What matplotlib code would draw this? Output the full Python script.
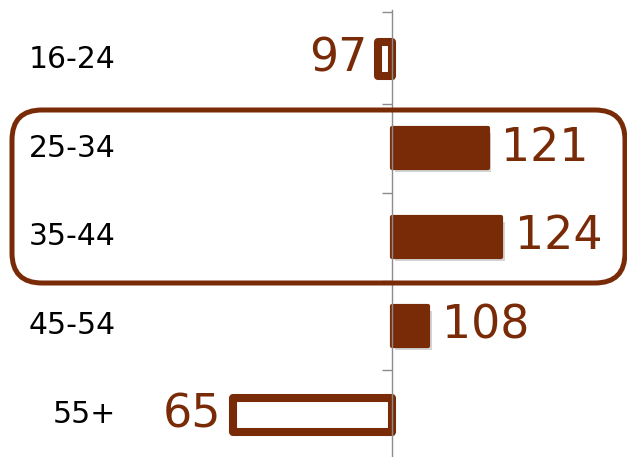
import matplotlib
matplotlib.use("Agg")
import matplotlib.pyplot as plt
from matplotlib.patches import FancyBboxPatch
import matplotlib.patheffects as pe

# ---- data ----
categories = ['16-24', '25-34', '35-44', '45-54', '55+']
index_values = [97, 121, 124, 108, 65]
baseline = 100

BROWN = '#792B07'
GRAY = '#8C8C8C'

fig = plt.figure(figsize=(6.27, 4.57), dpi=100)
ax = fig.add_axes([0, 0, 1, 1])
ax.set_facecolor('none')

y = list(range(len(categories)))
shadow = [pe.SimplePatchShadow(offset=(2.5, -3), shadow_rgbFace='#888888', alpha=0.35), pe.Normal()]

for yi, v in zip(y, index_values):
    if v < baseline:
        bars = ax.barh(yi, v - baseline, left=baseline, height=0.385,
                       color='white', edgecolor=BROWN, linewidth=5.8, zorder=3)
    else:
        bars = ax.barh(yi, v - baseline, left=baseline, height=0.44,
                       color=BROWN, edgecolor=BROWN, linewidth=3.0, zorder=3)
    for b in bars:
        b.set_joinstyle('round')
        b.set_path_effects(shadow)
    if v >= baseline:
        ax.annotate(str(v), (v, yi), xytext=(10, 0), textcoords='offset points',
                    ha='left', va='center', fontsize=33, color=BROWN, zorder=4)
    else:
        ax.annotate(str(v), (v, yi), xytext=(-8, 0), textcoords='offset points',
                    ha='right', va='center', fontsize=33, color=BROWN, zorder=4)

# category labels
for yi, c in zip(y, categories):
    ax.text(0.185, yi, c, transform=ax.get_yaxis_transform(), ha='right',
            va='center', fontsize=21.5, color='black')

ax.set_xlim(13.85, 151.65)
ax.set_ylim(4.472, -0.663)

for s in ['top', 'right', 'bottom']:
    ax.spines[s].set_visible(False)
ax.spines['left'].set_position(('data', baseline))
ax.spines['left'].set_bounds(-0.55, 4.472)
ax.spines['left'].set_color(GRAY)
ax.spines['left'].set_linewidth(1.0)
ax.spines['left'].set_zorder(5)
ax.set_yticks([-0.53, 0.5, 1.5, 2.5, 3.5])
ax.tick_params(axis='y', length=7.2, width=1.0, color=GRAY, labelleft=False, direction='out')
ax.set_xticks([])

# highlight box overlay (pixel coordinates)
ov = fig.add_axes([0, 0, 1, 1])
ov.set_xlim(0, 627)
ov.set_ylim(457, 0)
ov.axis('off')
ov.set_facecolor('none')
ov.add_patch(FancyBboxPatch((12, 110), 613, 173,
                            boxstyle='round,pad=0,rounding_size=30',
                            facecolor='none', edgecolor=BROWN, linewidth=3.6))

fig.savefig('out.png', dpi=100)
